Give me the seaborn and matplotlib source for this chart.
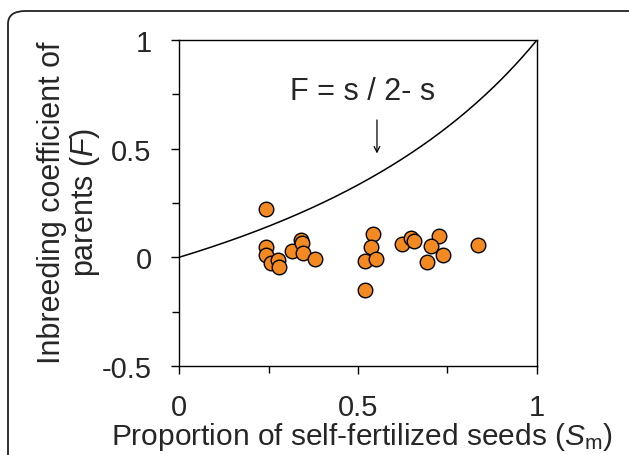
import numpy as np
import pandas as pd
import seaborn as sns
import matplotlib.pyplot as plt
from matplotlib.patches import FancyBboxPatch

# self-fertilization proportion (Sm) and inbreeding coefficient (F)
sm = [0.242, 0.242, 0.243, 0.256, 0.276, 0.278, 0.316, 0.341, 0.344, 0.346,
      0.380, 0.543, 0.535, 0.519, 0.549, 0.520, 0.622, 0.647, 0.656, 0.725,
      0.705, 0.737, 0.694, 0.836]
f_val = [0.221, 0.049, 0.011, -0.024, -0.014, -0.045, 0.029, 0.080, 0.068, 0.018,
         -0.006, 0.106, 0.049, -0.017, -0.009, -0.151, 0.063, 0.091, 0.075, 0.098,
         0.052, 0.009, -0.022, 0.057]
x_ticks = [0, 0.5, 1]
x_tick_labels = ["0", "0.5", "1"]
y_ticks = [-0.5, 0, 0.5, 1]
y_tick_labels = ["-0.5", "0", "0.5", "1"]

df = pd.DataFrame({"Sm": sm, "F": f_val})

# expected F under inbreeding equilibrium
s = np.linspace(0, 1, 200)
curve = pd.DataFrame({"s": s, "F": s / (2 - s)})

sns.set_style("white")
plt.rcParams["font.family"] = ["Liberation Sans", "DejaVu Sans"]
plt.rcParams["mathtext.fontset"] = "custom"
plt.rcParams["mathtext.it"] = "Liberation Sans:italic"
plt.rcParams["mathtext.rm"] = "Liberation Sans"

fig = plt.figure(figsize=(6.29, 4.56), dpi=100)
ax = fig.add_axes([0.2846, 0.1952, 0.5691, 0.7149])

sns.lineplot(data=curve, x="s", y="F", color="black", linewidth=1.1, ax=ax)
sns.scatterplot(data=df, x="Sm", y="F", s=110, color="#F28A21",
                edgecolor="black", linewidth=1.0, ax=ax, zorder=3)

ax.set_xlim(0, 1)
ax.set_ylim(-0.5, 1)
ax.set_xticks(x_ticks)
ax.set_xticklabels(x_tick_labels)
ax.set_yticks(y_ticks)
ax.set_yticklabels(y_tick_labels)
ax.set_xticks([0.25, 0.75], minor=True)
ax.set_yticks([-0.25, 0.25, 0.75], minor=True)
ax.tick_params(which="both", direction="out", color="black", width=1,
               labelsize=21, length=5.8, bottom=True, left=True)
ax.tick_params(which="minor", length=5)
ax.tick_params(axis="x", pad=14)
ax.tick_params(axis="y", pad=14)
for sp in ax.spines.values():
    sp.set_color("black")
    sp.set_linewidth(1)

ax.set_xlabel("Proportion of self-fertilized seeds ($S_{\\mathrm{m}}$)",
              fontsize=21.5)
ax.set_ylabel("Inbreeding coefficient of\nparents ($F$)", fontsize=22,
              linespacing=1.05)
ax.xaxis.set_label_coords(0.51, -0.165)
ax.yaxis.set_label_coords(-0.215, 0.505)

ax.text(0.514, 0.765, "F = s / 2- s", fontsize=22, ha="center", va="center")
ax.annotate("", xy=(0.553, 0.465), xytext=(0.553, 0.645),
            arrowprops=dict(arrowstyle="->", color="black", lw=0.9))

border = FancyBboxPatch((8 / 629, -0.1), 1.2, 1.1 - 12 / 456,
                        boxstyle="round,pad=0,rounding_size=0.028",
                        transform=fig.transFigure, fill=False,
                        edgecolor="#222222", linewidth=1.3, clip_on=False)
fig.patches.append(border)

fig.savefig("out.png", dpi=100)
